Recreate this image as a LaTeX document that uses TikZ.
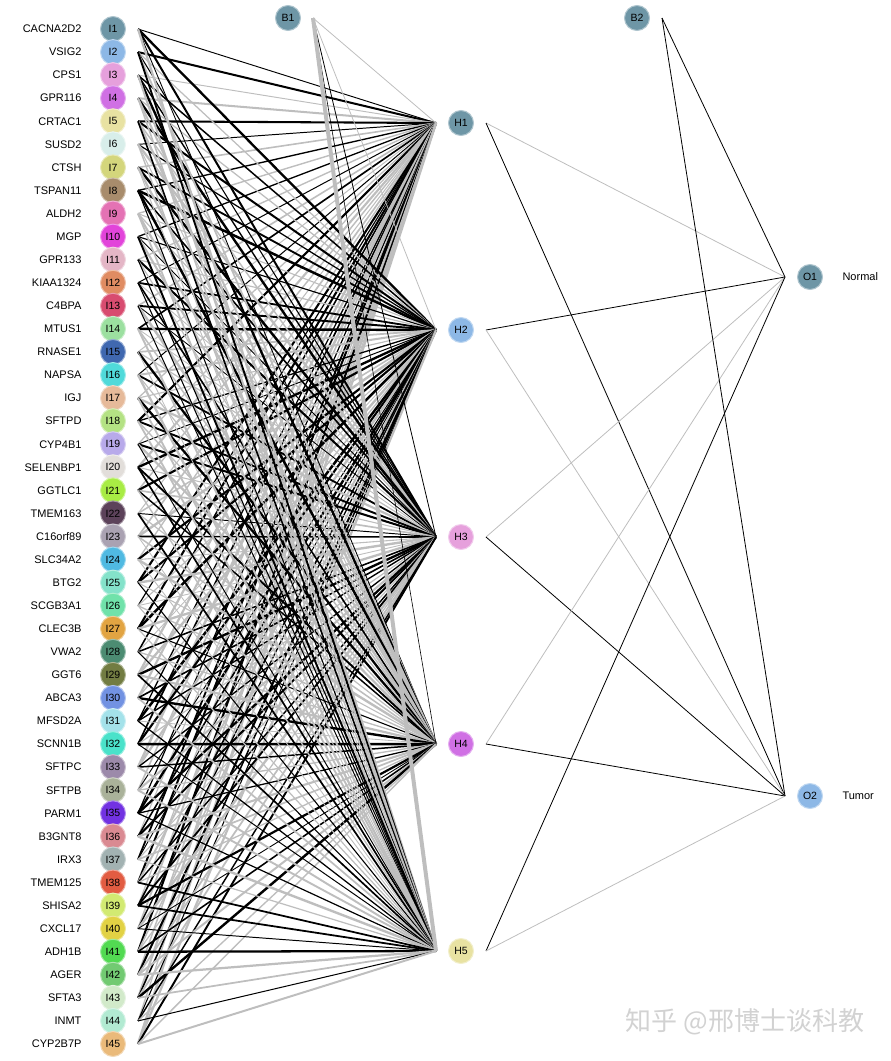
\documentclass[tikz,border=0pt]{standalone}
\usepackage{fontspec}
\setmainfont{Liberation Sans}
\newfontfamily\cjk{Noto Sans CJK SC}
\usetikzlibrary{positioning}
\definecolor{c1}{HTML}{6E96A6}\definecolor{c2}{HTML}{8DB8E6}\definecolor{c3}{HTML}{E6A0DC}
\definecolor{c4}{HTML}{D070E4}\definecolor{c5}{HTML}{E8E2A2}\definecolor{c6}{HTML}{D8EEEA}
\definecolor{c7}{HTML}{D4D67C}\definecolor{c8}{HTML}{A88C6C}\definecolor{c9}{HTML}{E472B4}
\definecolor{c10}{HTML}{E244DA}\definecolor{c11}{HTML}{E4B6C6}\definecolor{c12}{HTML}{E08C62}
\definecolor{c13}{HTML}{D84C70}\definecolor{c14}{HTML}{9CE0A0}\definecolor{c15}{HTML}{4068B0}
\definecolor{c16}{HTML}{50DADA}\definecolor{c17}{HTML}{E6BA9A}\definecolor{c18}{HTML}{B4E284}
\definecolor{c19}{HTML}{B8AAEA}\definecolor{c20}{HTML}{E2DEDA}\definecolor{c21}{HTML}{A8EC44}
\definecolor{c22}{HTML}{5C425A}\definecolor{c23}{HTML}{AAA2B2}\definecolor{c24}{HTML}{50BAE2}
\definecolor{c25}{HTML}{84E2CA}\definecolor{c26}{HTML}{70E2AA}\definecolor{c27}{HTML}{E2A442}
\definecolor{c28}{HTML}{4C8C72}\definecolor{c29}{HTML}{727C42}\definecolor{c30}{HTML}{7292E2}
\definecolor{c31}{HTML}{A4E2EA}\definecolor{c32}{HTML}{4AE2CA}\definecolor{c33}{HTML}{9C8AAA}
\definecolor{c34}{HTML}{AAB29A}\definecolor{c35}{HTML}{7232E2}\definecolor{c36}{HTML}{DA8A92}
\definecolor{c37}{HTML}{A2B2B2}\definecolor{c38}{HTML}{E25C42}\definecolor{c39}{HTML}{D2EA72}
\definecolor{c40}{HTML}{E2D244}\definecolor{c41}{HTML}{52DA52}\definecolor{c42}{HTML}{72CA72}
\definecolor{c43}{HTML}{D2EACA}\definecolor{c44}{HTML}{B2EAD2}\definecolor{c45}{HTML}{EABA7A}
\definecolor{neg}{HTML}{BEBEBE}
\begin{document}
\begin{tikzpicture}[x=1pt,y=-1pt,
  neuron/.style={circle,minimum size=25pt,inner sep=0pt,line width=1pt,font=\fontsize{10.5}{12}\selectfont},
  gene/.style={font=\fontsize{11}{12}\selectfont},
  wt0/.style={neg},wt1/.style={black}]
\useasboundingbox (0,0) rectangle (891,1061);
\foreach \g [count=\i] in {CACNA2D2,VSIG2,CPS1,GPR116,CRTAC1,SUSD2,CTSH,TSPAN11,ALDH2,MGP,GPR133,KIAA1324,C4BPA,MTUS1,RNASE1,NAPSA,IGJ,SFTPD,CYP4B1,SELENBP1,GGTLC1,TMEM163,C16orf89,SLC34A2,BTG2,SCGB3A1,CLEC3B,VWA2,GGT6,ABCA3,MFSD2A,SCNN1B,SFTPC,SFTPB,PARM1,B3GNT8,IRX3,TMEM125,SHISA2,CXCL17,ADH1B,AGER,SFTA3,INMT,CYP2B7P}{
  \pgfmathsetmacro\yy{29+(\i-1)*23.068}
  \node[neuron,fill=c\i,draw=c\i!55!white] (I\i) at (113,\yy) {I\i};
  \node[gene,left=15pt of I\i] (L\i) {\g};
}
\foreach \j in {1,...,5}{
  \pgfmathsetmacro\yy{123+(\j-1)*207}
  \node[neuron,fill=c\j,draw=c\j!55!white] (H\j) at (461,\yy) {H\j};
}
\node[neuron,fill=c1,draw=c1!55!white] (B1) at (288,18) {B1};
\node[neuron,fill=c1,draw=c1!55!white] (B2) at (637,18) {B2};
\node[neuron,fill=c1,draw=c1!55!white] (O1) at (810,277) {O1};
\node[neuron,fill=c2,draw=c2!55!white] (O2) at (810,796) {O2};
\node[gene,right=16pt of O1] (N1) {Normal};
\node[gene,right=16pt of O2] (N2) {Tumor};

\pgfmathsetseed{891}
\foreach \j in {1,...,5}{
  \foreach \i in {1,...,45}{
    \pgfmathtruncatemacro\sg{rnd<0.5}
    \pgfmathsetmacro\w{0.8+1.7*rnd}
    \draw[wt\sg,line width=\w pt] ([xshift=12pt]I\i.east) -- ([xshift=-12pt]H\j.west);
  }
}
\foreach \j/\sg/\w in {1/0/0.8,2/0/0.8,3/1/0.8,4/1/0.6,5/0/4}
  \draw[wt\sg,line width=\w pt] ([xshift=12pt]B1.east) -- ([xshift=-12pt]H\j.west);
\foreach \j/\a/\b in {1/0/1,2/1/0,3/0/1,4/0/1,5/1/0}{
  \draw[wt\a,line width=0.8pt] ([xshift=12pt]H\j.east) -- ([xshift=-12pt]O1.west);
  \draw[wt\b,line width=0.8pt] ([xshift=12pt]H\j.east) -- ([xshift=-12pt]O2.west);
}
\draw[wt1,line width=0.8pt] ([xshift=12pt]B2.east) -- ([xshift=-12pt]O1.west);
\draw[wt1,line width=0.8pt] ([xshift=12pt]B2.east) -- ([xshift=-12pt]O2.west);

\node[text=gray!35,font=\cjk\fontsize{26}{28}\selectfont] (wm) at (745,1022) {知乎 @邢博士谈科教};
\end{tikzpicture}
\end{document}
